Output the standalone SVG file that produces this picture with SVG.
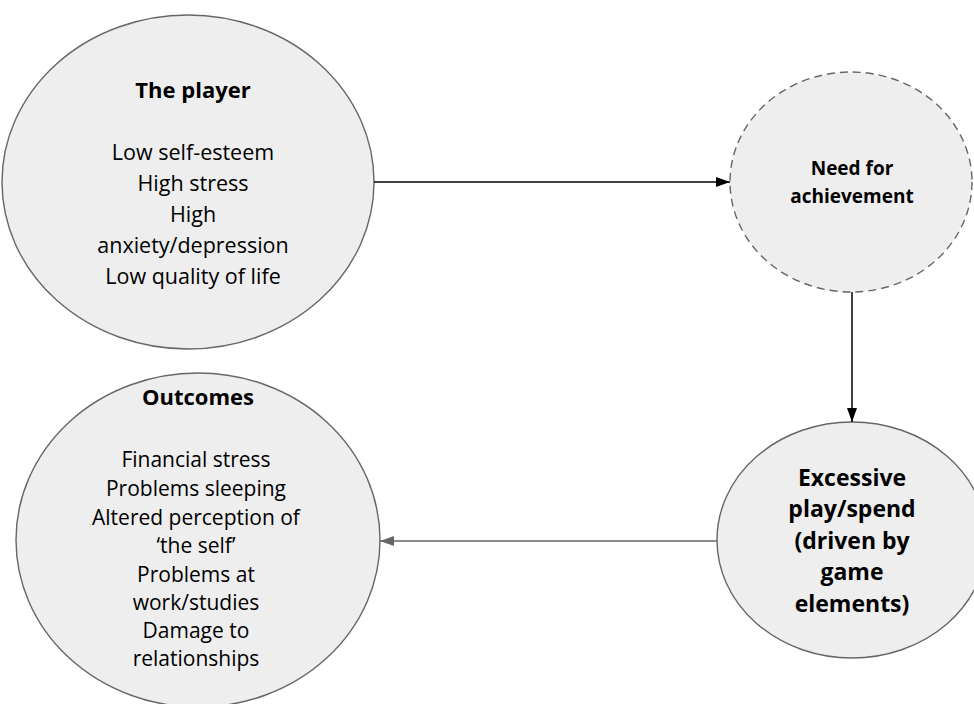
<svg xmlns="http://www.w3.org/2000/svg" width="974" height="704" viewBox="0 0 974 704">
<style>
.node{fill:#eeeeee;stroke:#666666;stroke-width:1.4}
.dashed{stroke-dasharray:8 5}
text{font-family:"Open Sans","Noto Sans","Liberation Sans",sans-serif;fill:#000;text-anchor:middle}
.b{font-weight:bold}
.c1{stroke:#000;stroke-width:1.5;fill:none}
.c2{stroke:#666666;stroke-width:1.5;fill:none}
</style>
<defs>
<marker id="ab" markerWidth="14" markerHeight="10" refX="14" refY="5" orient="auto" markerUnits="userSpaceOnUse"><path d="M0,0 L14,5 L0,10 Z" fill="#000"/></marker>
<marker id="ag" markerWidth="14" markerHeight="10" refX="14" refY="5" orient="auto" markerUnits="userSpaceOnUse"><path d="M0,0 L14,5 L0,10 Z" fill="#666666"/></marker>
</defs>
<rect width="974" height="704" fill="#ffffff"/>
<g id="player">
<ellipse class="node" cx="188" cy="182" rx="186" ry="167"/>
<text class="b" x="193" y="98" font-size="22">The player</text>
<text x="193" y="160" font-size="21.5">Low self-esteem</text>
<text x="193" y="191" font-size="21.5">High stress</text>
<text x="193" y="222" font-size="21.5">High</text>
<text x="193" y="253" font-size="21.5">anxiety/depression</text>
<text x="193" y="284" font-size="21.5">Low quality of life</text>
</g>
<g id="need">
<ellipse class="node dashed" cx="851" cy="182" rx="121" ry="110"/>
<text class="b" x="852" y="175" font-size="19">Need for</text>
<text class="b" x="852" y="203" font-size="19">achievement</text>
</g>
<g id="excessive">
<ellipse class="node" cx="852" cy="540" rx="135" ry="118"/>
<text class="b" x="852" y="486" font-size="23">Excessive</text>
<text class="b" x="852" y="517" font-size="23">play/spend</text>
<text class="b" x="852" y="549" font-size="23">(driven by</text>
<text class="b" x="852" y="580" font-size="23">game</text>
<text class="b" x="852" y="612" font-size="23">elements)</text>
</g>
<g id="outcomes">
<ellipse class="node" cx="198" cy="540" rx="182" ry="167"/>
<text class="b" x="198" y="405" font-size="22">Outcomes</text>
<text x="196" y="467" font-size="21">Financial stress</text>
<text x="196" y="496" font-size="21">Problems sleeping</text>
<text x="196" y="525" font-size="21">Altered perception of</text>
<text x="196" y="553" font-size="21">‘the self’</text>
<text x="196" y="582" font-size="21">Problems at</text>
<text x="196" y="610" font-size="21">work/studies</text>
<text x="196" y="638" font-size="21">Damage to</text>
<text x="196" y="666" font-size="21">relationships</text>
</g>
<g id="connectors">
<line class="c1" x1="374" y1="182" x2="730" y2="182" marker-end="url(#ab)"/>
<line class="c1" x1="852" y1="292" x2="852" y2="422" marker-end="url(#ab)"/>
<line class="c2" x1="717" y1="541" x2="380" y2="541" marker-end="url(#ag)"/>
</g>
</svg>
